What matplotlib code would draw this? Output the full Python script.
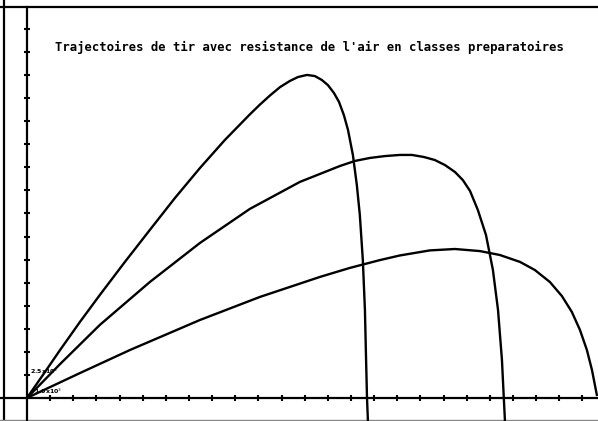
import numpy as np
import matplotlib
matplotlib.use('Agg')
import matplotlib.pyplot as plt

# trajectories (one tick = one unit)
x1 = [0, 0.78, 1.43, 2.29, 3.15, 4.23, 5.31, 6.39, 7.47, 8.55, 9.63, 10.06, 10.50,
      10.93, 11.36, 11.71, 12.10, 12.44, 12.74, 13.00, 13.26, 13.48, 13.69, 13.87,
      14.08, 14.25, 14.38, 14.51, 14.60, 14.64, 14.69, 14.73]
y1 = [0, 1.13, 2.08, 3.30, 4.47, 5.90, 7.29, 8.67, 9.97, 11.19, 12.30, 12.72, 13.12,
      13.48, 13.75, 13.92, 14.01, 13.96, 13.79, 13.57, 13.23, 12.84, 12.27, 11.62,
      10.54, 9.24, 7.94, 5.98, 3.82, 2.08, 0, -1.0]

x2 = [0, 1.43, 3.15, 5.31, 7.47, 9.63, 11.79, 13.52, 14.17, 14.82, 15.46, 16.11,
      16.63, 17.15, 17.62, 18.06, 18.49, 18.83, 19.14, 19.48, 19.83, 20.13, 20.35,
      20.52, 20.60, 20.65]
y2 = [0, 1.47, 3.17, 5.03, 6.72, 8.20, 9.37, 10.06, 10.28, 10.41, 10.49, 10.54,
      10.54, 10.45, 10.32, 10.10, 9.80, 9.45, 8.98, 8.15, 7.07, 5.55, 3.82,
      1.65, 0, -1.0]

x3 = [0, 2.29, 4.45, 7.47, 10.06, 12.66, 13.95, 15.25, 16.11, 17.41, 18.49, 19.57,
      20.43, 21.30, 21.94, 22.59, 23.11, 23.54, 23.89, 24.19, 24.41, 24.62]
y3 = [0, 1.08, 2.08, 3.38, 4.38, 5.25, 5.64, 5.98, 6.18, 6.40, 6.46, 6.37,
      6.20, 5.90, 5.55, 5.03, 4.42, 3.73, 2.95, 2.08, 1.21, 0.13]

xticks = np.arange(1, 25)
yticks = np.arange(1, 17)

title = "Trajectoires de tir avec resistance de l'air en classes preparatoires"
ylab = "2.5x10$^3$"
xlab = "1.0x10$^3$"

fig = plt.figure(figsize=(5.98, 4.21), dpi=100)
ax = fig.add_axes([0, 0, 1, 1])
ax.set_xlim(-1.166, 24.67)
ax.set_ylim(-1.0, 17.26)
ax.axis('off')

k = 'black'
# frame
ax.axvline(-0.99, color=k, lw=1.6)
ax.axhline(16.96, color=k, lw=1.6)
ax.axhline(-0.96, color='#888888', lw=1.0)
# axes through origin
ax.axvline(0, ymax=(16.96 + 1.0) / 18.26, color=k, lw=1.6)
ax.axhline(0, color=k, lw=1.6)
ax.plot(xticks, np.zeros_like(xticks), ls='none', marker='|', ms=5, mew=1.5, color=k)
ax.plot(np.zeros_like(yticks), yticks, ls='none', marker='_', ms=5, mew=1.5, color=k)

for xs, ys in [(x1, y1), (x2, y2), (x3, y3)]:
    ax.plot(xs, ys, color=k, lw=1.7, solid_joinstyle='round')

ax.text(1.2, 15.2, title, family='DejaVu Sans Mono', fontweight='bold',
        fontsize=8.8, va='center', ha='left')
ax.text(0.15, 1.15, ylab, fontsize=4.5, fontweight='bold', va='center')
ax.text(0.3, 0.3, xlab, fontsize=4.5, fontweight='bold', va='center')

fig.savefig('out.png', dpi=100)
